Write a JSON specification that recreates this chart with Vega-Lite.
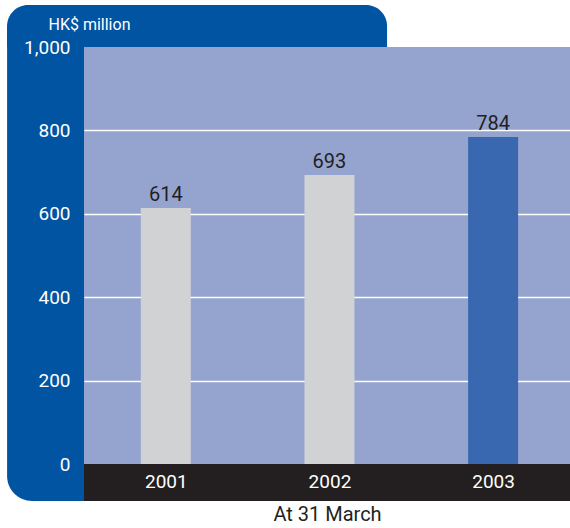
{
  "$schema": "https://vega.github.io/schema/vega-lite/v6.json",
  "width": 486,
  "height": 417,
  "autosize": {"type": "none"},
  "padding": {"left": 84, "top": 47, "right": 0, "bottom": 64},
  "background": "white",
  "config": {"view": {"fill": "#95A3CF", "stroke": null}, "font": "Roboto"},
  "data": {"values": [
    {"Year": 2001, "Value": 614},
    {"Year": 2002, "Value": 693},
    {"Year": 2003, "Value": 784}
  ]},
  "layer": [
    {
      "data": {"values": [{}]},
      "mark": {"type": "rect", "color": "#0054A2", "cornerRadiusTopLeft": 25, "cornerRadiusBottomLeft": 25},
      "encoding": {
        "x": {"datum": 2000.03, "type": "quantitative", "scale": {"domain": [2000.5, 2003.47], "nice": false, "zero": false, "padding": 0},
          "axis": {
            "values": [2001, 2002, 2003], "format": "d", "domain": false,
            "ticks": false, "grid": false,
            "labelPadding": 17, "labelBaseline": "middle", "labelColor": "white", "labelFontSize": 19,
            "title": "At 31 March", "titleFontSize": 20, "titleFontWeight": "normal", "titleColor": "#231F20",
            "titleY": 56, "titleBaseline": "alphabetic", "zindex": 1
          }},
        "x2": {"datum": 2000.5},
        "y": {"datum": -88.7, "type": "quantitative", "scale": {"domain": [0, 1000], "nice": false, "zero": false, "padding": 0}, "axis": null},
        "y2": {"datum": 1100.7}
      }
    },
    {
      "data": {"values": [{}]},
      "mark": {"type": "rect", "color": "#0054A2", "cornerRadiusTopLeft": 25, "cornerRadiusTopRight": 22},
      "encoding": {
        "x": {"datum": 2000.03, "type": "quantitative",
          "axis": {
            "values": [2001, 2002, 2003], "format": "d", "domain": false,
            "ticks": false, "grid": false,
            "labelPadding": 17, "labelBaseline": "middle", "labelColor": "white", "labelFontSize": 19,
            "title": "At 31 March", "titleFontSize": 20, "titleFontWeight": "normal", "titleColor": "#231F20",
            "titleY": 56, "titleBaseline": "alphabetic", "zindex": 1
          }},
        "x2": {"datum": 2002.352},
        "y": {"datum": 1000, "type": "quantitative", "axis": null},
        "y2": {"datum": 1100.7}
      }
    },
    {
      "data": {"values": [{}]},
      "mark": {"type": "rect", "color": "#231F20"},
      "encoding": {
        "x": {"datum": 2000.5, "type": "quantitative",
          "axis": {
            "values": [2001, 2002, 2003], "format": "d", "domain": false,
            "ticks": false, "grid": false,
            "labelPadding": 17, "labelBaseline": "middle", "labelColor": "white", "labelFontSize": 19,
            "title": "At 31 March", "titleFontSize": 20, "titleFontWeight": "normal", "titleColor": "#231F20",
            "titleY": 56, "titleBaseline": "alphabetic", "zindex": 1
          }},
        "x2": {"datum": 2003.6},
        "y": {"datum": 0, "type": "quantitative", "axis": null},
        "y2": {"datum": -88.7}
      }
    },
    {
      "mark": {"type": "bar", "width": 50},
      "encoding": {
        "x": {
          "field": "Year", "type": "quantitative",
          "axis": {
            "values": [2001, 2002, 2003], "format": "d", "domain": false,
            "ticks": false, "grid": false,
            "labelPadding": 17, "labelBaseline": "middle", "labelColor": "white", "labelFontSize": 19,
            "title": "At 31 March", "titleFontSize": 20, "titleFontWeight": "normal", "titleColor": "#231F20",
            "titleY": 56, "titleBaseline": "alphabetic", "zindex": 1
          }
        },
        "y": {
          "field": "Value", "type": "quantitative",
          "axis": {
            "orient": "left", "values": [200, 400, 600, 800], "grid": true, "gridColor": "white", "gridWidth": 1.5, "gridOpacity": 1,
            "labels": false, "ticks": false, "domain": false, "title": null, "zindex": 0
          }
        },
        "color": {
          "field": "Year", "type": "ordinal",
          "scale": {"domain": [2001, 2002, 2003], "range": ["#D1D2D4", "#D1D2D4", "#3A68B0"]},
          "legend": null
        }
      }
    },
    {
      "mark": {"type": "text", "dy": -7, "baseline": "alphabetic", "fontSize": 20, "color": "#231F20"},
      "encoding": {
        "x": {"field": "Year", "type": "quantitative",
          "axis": {
            "values": [2001, 2002, 2003], "format": "d", "domain": false,
            "ticks": false, "grid": false,
            "labelPadding": 17, "labelBaseline": "middle", "labelColor": "white", "labelFontSize": 19,
            "title": "At 31 March", "titleFontSize": 20, "titleFontWeight": "normal", "titleColor": "#231F20",
            "titleY": 56, "titleBaseline": "alphabetic", "zindex": 1
          }},
        "y": {
          "field": "Value", "type": "quantitative",
          "axis": {
            "orient": "left", "values": [0, 200, 400, 600, 800, 1000], "format": ",d",
            "grid": false, "ticks": false, "domain": false,
            "labelPadding": 14, "labelColor": "white", "labelFontSize": 19,
            "title": "HK$ million", "titleAngle": 0, "titleX": -36, "titleY": -18, "titleAlign": "left",
            "titleBaseline": "alphabetic", "titleColor": "white", "titleFontSize": 16, "titleFontWeight": "normal",
            "zindex": 1
          }
        },
        "text": {"field": "Value", "type": "quantitative"}
      }
    }
  ],
  "resolve": {"axis": {"y": "independent"}}
}
